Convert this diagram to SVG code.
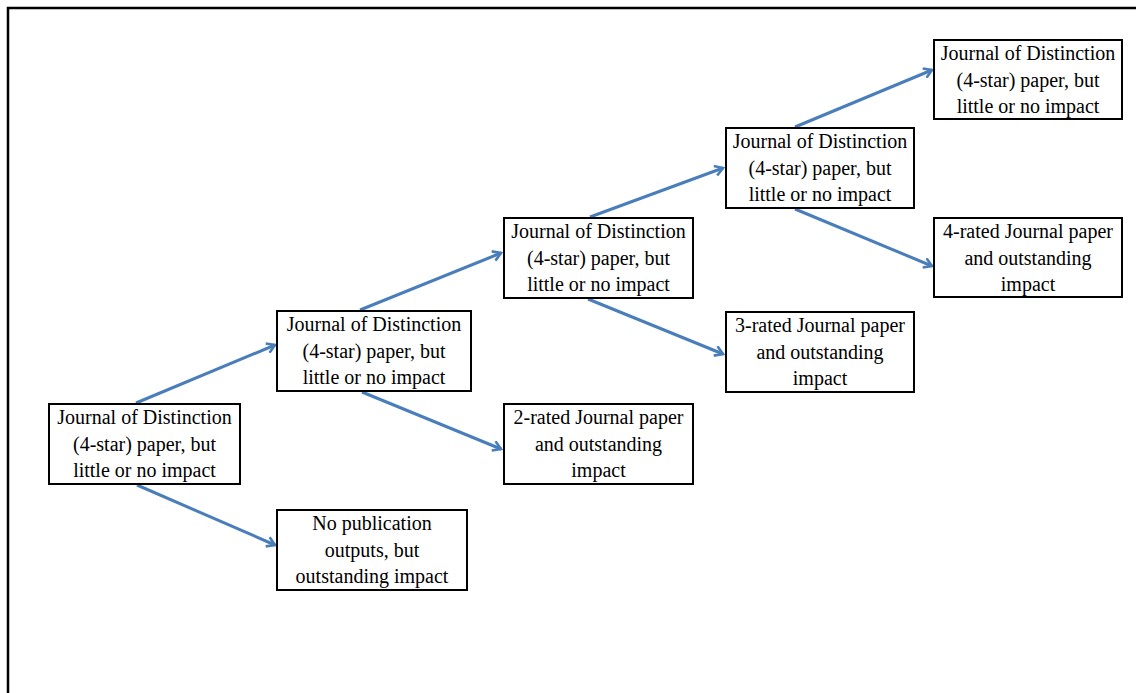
<svg xmlns="http://www.w3.org/2000/svg" width="1136" height="693" viewBox="0 0 1136 693">
<style>
.box{fill:#fff;stroke:#000;stroke-width:2}
.t{font-family:"Liberation Serif","Times New Roman",serif;font-size:20px;fill:#000;text-anchor:middle}
.c{stroke:#4A7EBB;stroke-width:3;fill:none;marker-end:url(#ah)}
</style>
<defs>
<marker id="ah" viewBox="0 0 12 12" refX="10" refY="6" markerWidth="12" markerHeight="12" markerUnits="userSpaceOnUse" orient="auto">
<path d="M2,1 L10,6 L2,11" fill="none" stroke="#4A7EBB" stroke-width="2.6" stroke-linejoin="miter"/>
</marker>
</defs>
<rect x="0" y="0" width="1136" height="693" fill="#fff"/>
<path d="M8,693 L8,8 L1136,8" fill="none" stroke="#000" stroke-width="2.5"/>
<g id="connectors">
<line class="c" x1="136" y1="403" x2="275" y2="345"/>
<line class="c" x1="137" y1="485" x2="275" y2="545"/>
<line class="c" x1="360" y1="310" x2="501" y2="253"/>
<line class="c" x1="362" y1="392" x2="501" y2="449"/>
<line class="c" x1="590" y1="217" x2="723" y2="168"/>
<line class="c" x1="588" y1="299" x2="723" y2="354"/>
<line class="c" x1="795" y1="127" x2="932" y2="70"/>
<line class="c" x1="795" y1="209" x2="932" y2="266"/>
</g>
<g id="n1"><rect class="box" x="49" y="404" width="191" height="80"/>
<text class="t" x="144.5" y="424">Journal of Distinction</text><text class="t" x="144.5" y="451">(4-star) paper, but</text><text class="t" x="144.5" y="477">little or no impact</text></g>
<g id="n2"><rect class="box" x="277" y="311" width="194" height="80"/>
<text class="t" x="374" y="331">Journal of Distinction</text><text class="t" x="374" y="358">(4-star) paper, but</text><text class="t" x="374" y="384">little or no impact</text></g>
<g id="n3"><rect class="box" x="277" y="510" width="190" height="80"/>
<text class="t" x="372" y="530">No publication</text><text class="t" x="372" y="557">outputs, but</text><text class="t" x="372" y="583">outstanding impact</text></g>
<g id="n4"><rect class="box" x="504" y="218" width="189" height="80"/>
<text class="t" x="598.5" y="238">Journal of Distinction</text><text class="t" x="598.5" y="265">(4-star) paper, but</text><text class="t" x="598.5" y="291">little or no impact</text></g>
<g id="n5"><rect class="box" x="504" y="404" width="189" height="80"/>
<text class="t" x="598.5" y="424">2-rated Journal paper</text><text class="t" x="598.5" y="451">and outstanding</text><text class="t" x="598.5" y="477">impact</text></g>
<g id="n6"><rect class="box" x="726" y="128" width="188" height="80"/>
<text class="t" x="820" y="148">Journal of Distinction</text><text class="t" x="820" y="175">(4-star) paper, but</text><text class="t" x="820" y="201">little or no impact</text></g>
<g id="n7"><rect class="box" x="726" y="312" width="188" height="80"/>
<text class="t" x="820" y="332">3-rated Journal paper</text><text class="t" x="820" y="359">and outstanding</text><text class="t" x="820" y="385">impact</text></g>
<g id="n8"><rect class="box" x="934" y="40" width="188" height="79"/>
<text class="t" x="1028" y="60">Journal of Distinction</text><text class="t" x="1028" y="87">(4-star) paper, but</text><text class="t" x="1028" y="113">little or no impact</text></g>
<g id="n9"><rect class="box" x="934" y="218" width="188" height="79"/>
<text class="t" x="1028" y="238">4-rated Journal paper</text><text class="t" x="1028" y="265">and outstanding</text><text class="t" x="1028" y="291">impact</text></g>
</svg>
